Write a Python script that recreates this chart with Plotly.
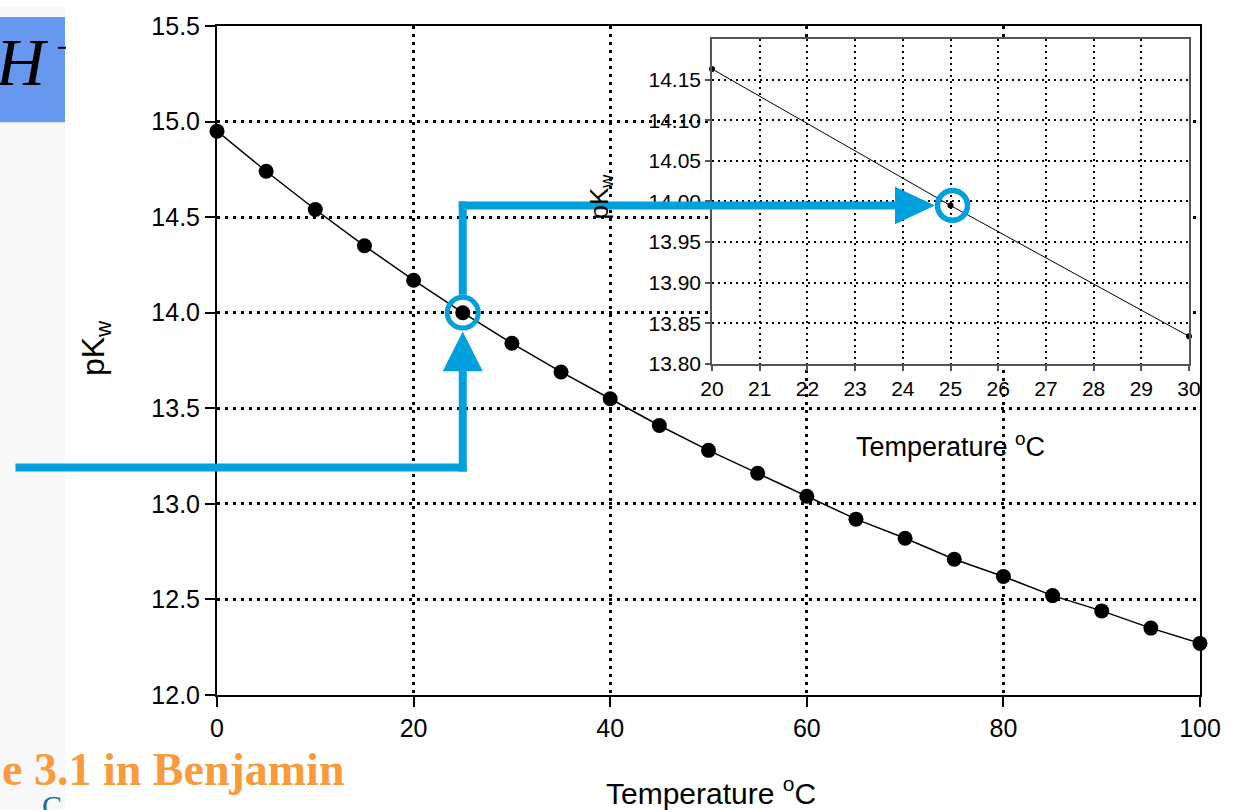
import plotly.graph_objects as go

# ---------------- data ----------------
temps = [0, 5, 10, 15, 20, 25, 30, 35, 40, 45, 50, 55, 60, 65, 70, 75, 80, 85, 90, 95, 100]
pkw = [14.95, 14.74, 14.54, 14.35, 14.17, 14.00, 13.84, 13.69, 13.55, 13.41, 13.28,
       13.16, 13.04, 12.92, 12.82, 12.71, 12.62, 12.52, 12.44, 12.35, 12.27]

inset_temps = [20, 25, 30]
inset_pkw = [14.163, 13.995, 13.834]

main_xticks = [0, 20, 40, 60, 80, 100]
main_yticks = [12.0, 12.5, 13.0, 13.5, 14.0, 14.5, 15.0, 15.5]
inset_xticks = [20, 21, 22, 23, 24, 25, 26, 27, 28, 29, 30]
inset_yticks = [13.80, 13.85, 13.90, 13.95, 14.00, 14.05, 14.10, 14.15]

ref_temp = 25          # highlighted temperature
entry_temp = -20.5     # where the blue pointer starts (main x units, off-axis)
entry_pk = 13.19       # level of the lower blue pointer line (main y units)

# ---------------- layout geometry ----------------
W, H = 1235, 810
ML, MR, MT, MB = 217, 35, 20, 115
PW, PH = W - ML - MR, H - MT - MB
X_RANGE, Y_RANGE = [0, 100], [12.0, 15.5]
IX_RANGE, IY_RANGE = [20, 30], [13.80, 14.20]
IX_DOM = [(712 - ML) / PW, (1189 - ML) / PW]
IY_DOM = [(H - MB - 361) / PH, (H - MB - 33) / PH]

BLUE = "#00A0DC"
FONT = "Liberation Sans, Arial, sans-serif"
SERIF = "Liberation Serif, Times New Roman, serif"


def px_x(v, rng=X_RANGE, dom=(0, 1)):
    f = dom[0] + (v - rng[0]) / (rng[1] - rng[0]) * (dom[1] - dom[0])
    return ML + f * PW


def px_y(v, rng=Y_RANGE, dom=(0, 1)):
    f = dom[0] + (v - rng[0]) / (rng[1] - rng[0]) * (dom[1] - dom[0])
    return MT + (1 - f) * PH


def fx(px):
    return (px - ML) / PW


def fy(py):
    return (H - MB - py) / PH


fig = go.Figure()

fig.add_trace(go.Scatter(
    x=temps, y=pkw, mode="lines+markers",
    line=dict(color="black", width=1.5),
    marker=dict(color="black", size=15), cliponaxis=False,
    xaxis="x", yaxis="y", showlegend=False, hoverinfo="x+y"))

fig.add_trace(go.Scatter(
    x=inset_temps, y=inset_pkw, mode="lines+markers",
    line=dict(color="black", width=1),
    marker=dict(color="black", size=6), cliponaxis=False,
    xaxis="x2", yaxis="y2", showlegend=False, hoverinfo="x+y"))

main_axis = dict(showline=True, linecolor="black", linewidth=2, mirror=True,
                 ticks="outside", ticklen=10, tickwidth=2, tickcolor="black",
                 showgrid=True, gridcolor="black", gridwidth=2.5, griddash="3px,5px",
                 zeroline=False, tickfont=dict(family=FONT, size=25, color="black"))
inset_axis = dict(showline=True, linecolor="#555555", linewidth=1.5, mirror=True,
                  ticks="outside", ticklen=5, tickwidth=1.5, tickcolor="#555555",
                  showgrid=True, gridcolor="black", gridwidth=1.5, griddash="2px,4px",
                  zeroline=False, tickfont=dict(family=FONT, size=21, color="black"))

fig.update_layout(
    width=W, height=H,
    margin=dict(l=ML, r=MR, t=MT, b=MB, pad=0),
    paper_bgcolor="white", plot_bgcolor="white",
    xaxis=dict(range=X_RANGE, tickvals=main_xticks, **main_axis),
    yaxis=dict(range=Y_RANGE, tickvals=main_yticks, tickformat=".1f", **main_axis),
    xaxis2=dict(range=IX_RANGE, domain=IX_DOM, anchor="y2", tickvals=inset_xticks, **inset_axis),
    yaxis2=dict(range=IY_RANGE, domain=IY_DOM, anchor="x2", tickvals=inset_yticks,
                tickformat=".2f", **inset_axis),
)

shapes = []
# left decorative slide strip and blue box
shapes.append(dict(type="rect", xref="paper", yref="paper", layer="below",
                   x0=fx(0), x1=fx(65), y0=fy(H), y1=fy(0),
                   fillcolor="#f8f8f8", line=dict(width=0)))
shapes.append(dict(type="rect", xref="paper", yref="paper",
                   x0=fx(0), x1=fx(65), y0=fy(117), y1=fy(11),
                   fillcolor="#6798F0", line=dict(width=0)))
shapes.append(dict(type="line", xref="paper", yref="paper",
                   x0=fx(58), x1=fx(66), y0=fy(42), y1=fy(42),
                   line=dict(color="black", width=2)))
# white inset background (hides main grid)
shapes.append(dict(type="rect", xref="x2", yref="y2", layer="below",
                   x0=IX_RANGE[0], x1=IX_RANGE[1], y0=IY_RANGE[0], y1=IY_RANGE[1],
                   fillcolor="white", line=dict(width=0)))

# blue pointer geometry (pixels derived from data)
cx1 = px_x(ref_temp)
cy1 = px_y(pkw[temps.index(ref_temp)])
cx2 = px_x(ref_temp, IX_RANGE, IX_DOM)
cy2 = px_y(inset_pkw[inset_temps.index(ref_temp)], IY_RANGE, IY_DOM)
ex = px_x(entry_temp)
ey = px_y(entry_pk)
LW = 8
RR, RLW = 15.5, 5
ring_out = RR + RLW / 2


def hline(x0, x1, y):
    return dict(type="line", xref="paper", yref="paper", x0=fx(x0), x1=fx(x1),
                y0=fy(y), y1=fy(y), line=dict(color=BLUE, width=LW))


def vline(x, y0, y1):
    return dict(type="line", xref="paper", yref="paper", x0=fx(x), x1=fx(x),
                y0=fy(y0), y1=fy(y1), line=dict(color=BLUE, width=LW))


def tri(pts):
    d = "M " + " L ".join(f"{fx(a):.5f},{fy(b):.5f}" for a, b in pts) + " Z"
    return dict(type="path", xref="paper", yref="paper", path=d,
                fillcolor=BLUE, line=dict(width=0))


def ring(cx, cy, r, w):
    return dict(type="circle", xref="paper", yref="paper",
                x0=fx(cx - r), x1=fx(cx + r), y0=fy(cy + r), y1=fy(cy - r),
                line=dict(color=BLUE, width=w))


tip_up = cy1 + ring_out + 1
shapes.append(hline(ex, cx1 + LW / 2, ey))
shapes.append(vline(cx1, ey + LW / 2, tip_up + 20))
shapes.append(tri([(cx1, tip_up), (cx1 + 20, tip_up + 40), (cx1 - 20, tip_up + 40)]))
shapes.append(ring(cx1, cy1, RR, RLW))
shapes.append(vline(cx1, cy1 - ring_out, cy2 - LW / 2))
tip_r = cx2 + 2 - 17.5
shapes.append(hline(cx1 - LW / 2, tip_r - 20, cy2))
shapes.append(tri([(tip_r, cy2), (tip_r - 40, cy2 - 19), (tip_r - 40, cy2 + 19)]))
shapes.append(ring(cx2 + 2, cy2, 15, 5.5))

fig.update_layout(shapes=shapes)

ann = []


def text(t, x, y, size, color="black", family=FONT, angle=0, xanchor="center", yanchor="middle"):
    ann.append(dict(text=t, x=fx(x), y=fy(y), xref="paper", yref="paper", showarrow=False,
                    textangle=angle, xanchor=xanchor, yanchor=yanchor,
                    font=dict(family=family, size=size, color=color)))


text("Temperature <sup>o</sup>C", 711, 792, 30)
text("pK<sub>w</sub>", 95, 345, 32, angle=-90)
text("Temperature <sup>o</sup>C", 950, 443, 27)
text("pK<sub>w</sub>", 600, 192, 26, angle=-90)
text("<i>H</i>", 22, 56, 68, family=SERIF)
text("<b>e 3.1 in Benjamin</b>", 346, 770, 46, color="#F99A3B", family=SERIF, xanchor="right")
text("C", 52, 806, 30, color="#1F6E8A", family=SERIF)

fig.update_layout(annotations=ann)

post = ("document.body.style.margin='0';document.body.style.overflow='hidden';"
        "var g=document.getElementById('{plot_id}');g.style.position='absolute';"
        "g.style.left='0px';g.style.top='0px';")
fig.write_html("out.html", post_script=post, config={"displayModeBar": False})
